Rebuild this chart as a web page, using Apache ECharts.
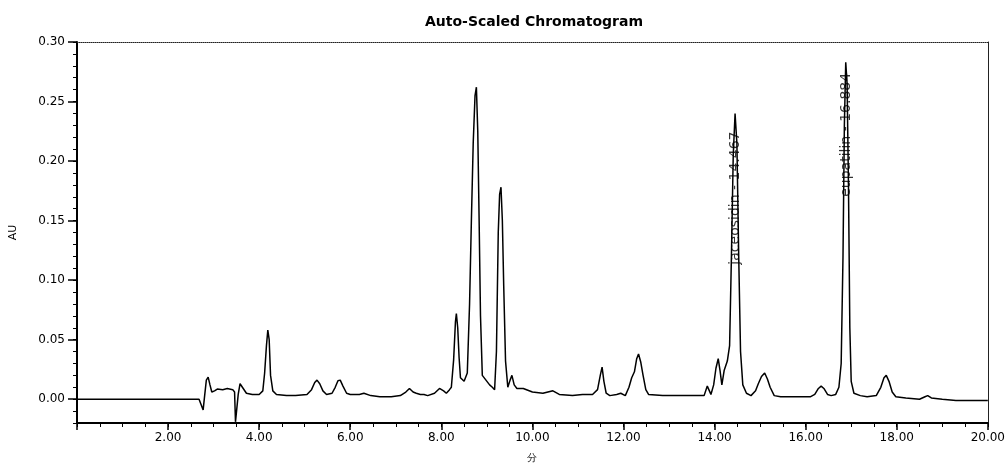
<!DOCTYPE html>
<html>
<head>
<meta charset="utf-8">
<script src="https://cdn.jsdelivr.net/npm/echarts@6/dist/echarts.min.js"></script>
<style>
  html, body { margin: 0; padding: 0; background: #fff; }
  #chart { width: 1008px; height: 468px; }
</style>
</head>
<body>
<div id="chart"></div>
<script>
// retention time (min) and absorbance (AU)
const rtMin = [
  0.00, 1.00, 2.00, 2.68, 2.72, 2.77, 2.80, 2.84, 2.88, 2.92, 2.96, 3.02, 3.08, 3.20, 3.30, 3.42,
  3.46, 3.48, 3.52, 3.54, 3.58, 3.61, 3.65, 3.72, 3.85, 4.00, 4.08, 4.12, 4.16, 4.19, 4.22, 4.25,
  4.30, 4.38, 4.60, 4.80, 5.05, 5.15, 5.22, 5.27, 5.33, 5.40, 5.48, 5.60, 5.67, 5.73, 5.78, 5.84,
  5.92, 6.00, 6.20, 6.30, 6.45, 6.65, 6.90, 7.10, 7.22, 7.30, 7.38, 7.45, 7.54, 7.62, 7.70, 7.85,
  7.96, 8.05, 8.11, 8.18, 8.22, 8.27, 8.31, 8.33, 8.36, 8.39, 8.42, 8.50, 8.57, 8.62, 8.66, 8.70,
  8.74, 8.77, 8.80, 8.83, 8.86, 8.90, 8.98, 9.06, 9.12, 9.17, 9.21, 9.25, 9.28, 9.31, 9.34, 9.37,
  9.41, 9.46, 9.51, 9.55, 9.60, 9.66, 9.80, 10.00, 10.23, 10.45, 10.59, 10.88, 11.10, 11.32, 11.43, 11.49,
  11.53, 11.57, 11.62, 11.70, 11.85, 11.94, 12.04, 12.12, 12.18, 12.24, 12.29, 12.33, 12.38, 12.43, 12.49, 12.55,
  12.86, 13.22, 13.77, 13.84, 13.92, 13.98, 14.03, 14.08, 14.12, 14.16, 14.21, 14.28, 14.33, 14.37, 14.41, 14.45,
  14.49, 14.53, 14.57, 14.62, 14.70, 14.80, 14.90, 14.96, 15.03, 15.10, 15.16, 15.22, 15.31, 15.45, 15.80, 16.10,
  16.20, 16.28, 16.34, 16.40, 16.48, 16.56, 16.66, 16.73, 16.78, 16.82, 16.85, 16.88, 16.91, 16.94, 16.97, 17.00,
  17.06, 17.20, 17.35, 17.55, 17.65, 17.72, 17.77, 17.83, 17.90, 17.98, 18.20, 18.50, 18.62, 18.68, 18.76, 19.00,
  19.30, 19.60, 20.00
];
const absAU = [
  0.000, 0.000, 0.000, 0.000, -0.004, -0.009, 0.002, 0.016, 0.0185, 0.012, 0.006, 0.007, 0.0085, 0.008, 0.009, 0.008,
  0.006, -0.019, -0.019, 0.004, 0.013, 0.0145, 0.009, 0.005, 0.004, 0.004, 0.007, 0.022, 0.045, 0.058, 0.050, 0.020,
  0.007, 0.004, 0.003, 0.003, 0.004, 0.008, 0.014, 0.016, 0.013, 0.007, 0.004, 0.005, 0.010, 0.0155, 0.016, 0.011,
  0.005, 0.004, 0.004, 0.005, 0.003, 0.002, 0.002, 0.003, 0.006, 0.009, 0.006, 0.005, 0.004, 0.004, 0.003, 0.005,
  0.009, 0.007, 0.005, 0.008, 0.010, 0.033, 0.065, 0.072, 0.060, 0.035, 0.018, 0.015, 0.022, 0.080, 0.150, 0.215,
  0.255, 0.262, 0.225, 0.150, 0.070, 0.020, 0.016, 0.012, 0.010, 0.008, 0.040, 0.140, 0.172, 0.178, 0.150, 0.095,
  0.032, 0.010, 0.016, 0.020, 0.012, 0.009, 0.009, 0.006, 0.005, 0.007, 0.004, 0.003, 0.004, 0.004, 0.008, 0.020,
  0.027, 0.015, 0.005, 0.003, 0.004, 0.005, 0.003, 0.010, 0.018, 0.023, 0.034, 0.038, 0.031, 0.020, 0.008, 0.004,
  0.003, 0.003, 0.003, 0.011, 0.004, 0.012, 0.026, 0.034, 0.024, 0.012, 0.024, 0.032, 0.045, 0.120, 0.205, 0.240,
  0.215, 0.120, 0.040, 0.012, 0.005, 0.003, 0.007, 0.013, 0.019, 0.022, 0.017, 0.010, 0.003, 0.002, 0.002, 0.002,
  0.004, 0.009, 0.011, 0.009, 0.004, 0.003, 0.004, 0.010, 0.030, 0.120, 0.230, 0.283, 0.265, 0.180, 0.060, 0.015,
  0.005, 0.003, 0.002, 0.003, 0.010, 0.018, 0.020, 0.015, 0.006, 0.002, 0.001, 0.000, 0.002, 0.003, 0.001, 0.000,
  -0.001, -0.001, -0.001
];

// peak annotations
const peakNames = ['jaceosidin - 14.467', 'eupatilin - 16.884'];
const peakRt = [14.467, 16.884];
const labelBase = [0.113, 0.170];

const yMajor = [0, 0.05, 0.10, 0.15, 0.20, 0.25, 0.30];

const chart = echarts.init(document.getElementById('chart'));

const font = '"DejaVu Sans", Arial, sans-serif';

chart.setOption({
  animation: false,
  title: {
    text: 'Auto-Scaled Chromatogram',
    left: 529,
    textAlign: 'center',
    top: 10,
    textStyle: { fontSize: 14, fontWeight: 'bold', color: '#000', fontFamily: font }
  },
  grid: { left: 77, right: 19, top: 42, bottom: 45 },
  xAxis: [
    {
      // minor ticks + bottom axis line
      type: 'value', min: 0, max: 20, interval: 0.5, position: 'bottom',
      axisLine: { show: true, onZero: false, lineStyle: { color: '#000', width: 2 } },
      axisTick: { length: 4, lineStyle: { color: '#000' } },
      axisLabel: { show: false },
      splitLine: { show: false }
    },
    {
      // major ticks with labels
      type: 'value', min: 0, max: 20, interval: 2, position: 'bottom',
      axisLine: { show: false, onZero: false },
      axisTick: { length: 7, lineStyle: { color: '#000', width: 1.5 } },
      axisLabel: {
        color: '#000', fontSize: 12, fontFamily: font, margin: 9,
        formatter: v => (v === 0 ? '' : v.toFixed(2))
      },
      splitLine: { show: false },
      name: '分', nameLocation: 'middle', nameGap: 30,
      nameTextStyle: { fontSize: 10, color: '#000' }
    },
    {
      // top frame
      type: 'value', min: 0, max: 20, position: 'top',
      axisLine: { show: true, onZero: false, lineStyle: { color: '#222', width: 1, type: 'dotted' } },
      axisTick: { show: false }, axisLabel: { show: false }, splitLine: { show: false }
    }
  ],
  yAxis: [
    {
      type: 'value', min: -0.02, max: 0.30, interval: 0.01, position: 'left',
      axisLine: { show: true, onZero: false, lineStyle: { color: '#000', width: 2 } },
      axisTick: { show: true, length: 4, lineStyle: { color: '#000' } },
      axisLabel: { show: false },
      splitLine: { show: false }
    },
    {
      type: 'value', min: -0.02, max: 0.30, position: 'left',
      axisLine: { show: false, onZero: false },
      axisTick: { show: true, length: 9, customValues: yMajor, lineStyle: { color: '#000', width: 1.5 } },
      axisLabel: {
        color: '#000', fontSize: 12, fontFamily: font, margin: 12,
        customValues: yMajor,
        formatter: v => v.toFixed(2)
      },
      splitLine: { show: false },
      name: 'AU', nameLocation: 'middle', nameGap: 58,
      nameTextStyle: { fontSize: 11, color: '#000', fontFamily: font }
    },
    {
      // right frame
      type: 'value', min: -0.02, max: 0.30, position: 'right',
      axisLine: { show: true, onZero: false, lineStyle: { color: '#222', width: 1 } },
      axisTick: { show: false }, axisLabel: { show: false }, splitLine: { show: false }
    }
  ],
  series: [
    {
      name: 'trace',
      type: 'line',
      xAxisIndex: 0, yAxisIndex: 0,
      showSymbol: false,
      lineStyle: { color: '#000', width: 1.5 },
      data: rtMin.map((t, i) => [t, absAU[i]])
    },
    {
      name: 'peaks',
      type: 'scatter',
      xAxisIndex: 0, yAxisIndex: 0,
      symbolSize: 0,
      data: peakNames.map((n, i) => ({ name: n, value: [peakRt[i], labelBase[i]] })),
      label: {
        show: true,
        formatter: p => p.name,
        rotate: 90,
        position: [0, 0],
        align: 'left',
        verticalAlign: 'middle',
        color: '#000',
        fontSize: 14,
        fontFamily: font
      }
    }
  ]
});
</script>
</body>
</html>
